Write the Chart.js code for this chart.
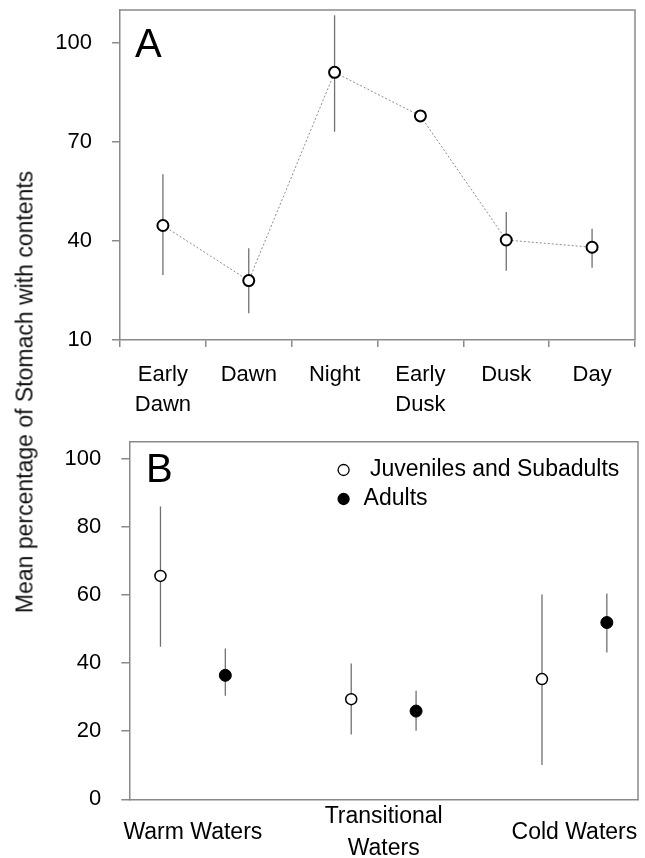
<!DOCTYPE html>
<html>
<head>
<meta charset="utf-8">
<script src="https://cdn.jsdelivr.net/npm/chart.js@4.4.1/dist/chart.umd.min.js"></script>
<style>
html, body { margin: 0; padding: 0; background: #fff; }
#wrap { position: relative; width: 645px; height: 858px; }
#chartA { position: absolute; left: 0; top: 0; }
#chartB { position: absolute; left: 0; top: 420px; }
#ytitle {
    position: absolute; left: 25px; top: 392px;
    transform: translate(-50%, -50%) rotate(-90deg);
    font: 23px "Liberation Sans", Arial, sans-serif;
    white-space: nowrap; color: #111;
}
</style>
</head>
<body>
<div id="wrap">
    <canvas id="chartA" width="645" height="420"></canvas>
    <canvas id="chartB" width="645" height="438"></canvas>
    <div id="ytitle">Mean percentage of Stomach with contents</div>
</div>
<script>
// panel A: time of day
const periods = [["Early", "Dawn"], "Dawn", "Night", ["Early", "Dusk"], "Dusk", "Day"];
const periodMean = [44.7, 28.0, 91.1, 77.9, 40.3, 38.1];
const periodLow = [29.7, 18.1, 73.1, null, 31.0, 31.9];
const periodHigh = [60.2, 37.8, 108.4, null, 48.8, 43.7];
const ticksA = [10, 40, 70, 100];

// panel B: water masses
const waters = ["Warm Waters", ["Transitional", "Waters"], "Cold Waters"];
const juvMean = [65.6, 29.4, 35.3];
const juvLow = [44.8, 19.0, 10.1];
const juvHigh = [86.0, 39.9, 60.1];
const adultMean = [36.4, 25.9, 51.9];
const adultLow = [30.4, 20.1, 43.1];
const adultHigh = [44.3, 31.9, 60.4];
const ticksB = [0, 20, 40, 60, 80, 100];

const FONT = '"Liberation Sans", Arial, sans-serif';
const AXIS = "#8a8a8a";
const SHIFT = 0.17;

// chart.js pads the scales for half a label; the frame here is fixed instead
function noPad(s) {
    s.paddingTop = 0;
    s.paddingBottom = 0;
    s.paddingLeft = 0;
    s.paddingRight = 0;
}

const errorBars = {
    id: "errorBars",
    beforeDatasetsDraw(chart) {
        const ctx = chart.ctx;
        const y = chart.scales.y;
        ctx.save();
        ctx.strokeStyle = "#707070";
        ctx.lineWidth = 1.3;
        chart.data.datasets.forEach((ds, di) => {
            if (!ds.low) return;
            chart.getDatasetMeta(di).data.forEach((pt, i) => {
                if (ds.low[i] == null) return;
                ctx.beginPath();
                ctx.moveTo(pt.x, y.getPixelForValue(ds.low[i]));
                ctx.lineTo(pt.x, y.getPixelForValue(ds.high[i]));
                ctx.stroke();
            });
        });
        ctx.restore();
    }
};

const frame = {
    id: "frame",
    afterDraw(chart, args, opts) {
        const ctx = chart.ctx;
        const a = chart.chartArea;
        ctx.save();
        ctx.strokeStyle = AXIS;
        ctx.lineWidth = 1.5;
        ctx.beginPath();
        ctx.moveTo(a.left, a.top);
        ctx.lineTo(a.right, a.top);
        ctx.lineTo(a.right, a.bottom);
        ctx.stroke();
        ctx.fillStyle = "#000";
        ctx.font = "40px " + FONT;
        ctx.textBaseline = "alphabetic";
        ctx.fillText(opts.letter, a.left + opts.dx, a.top + opts.dy);
        ctx.restore();
    }
};

const insideLegend = {
    id: "insideLegend",
    afterDraw(chart, args, opts) {
        const ctx = chart.ctx;
        const a = chart.chartArea;
        ctx.save();
        ctx.font = "23px " + FONT;
        ctx.textBaseline = "middle";
        chart.data.datasets.forEach((ds, i) => {
            const cx = a.left + opts.x;
            const cy = a.top + opts.y + i * opts.gap;
            ctx.beginPath();
            ctx.arc(cx, cy, 5.5, 0, 2 * Math.PI);
            ctx.fillStyle = ds.pointBackgroundColor;
            ctx.fill();
            ctx.strokeStyle = "#000";
            ctx.lineWidth = 1.3;
            ctx.stroke();
            ctx.fillStyle = "#000";
            ctx.fillText(ds.label, cx + 20, cy);
        });
        ctx.restore();
    }
};

const tickFont = { family: FONT, size: 22 };

new Chart(document.getElementById("chartA"), {
    type: "line",
    data: {
        labels: periods,
        datasets: [{
            data: periodMean,
            low: periodLow,
            high: periodHigh,
            borderColor: "#8c8c8c",
            borderWidth: 1,
            borderDash: [2, 2],
            tension: 0,
            pointRadius: 5.5,
            pointBorderWidth: 2,
            pointBackgroundColor: "#fff",
            pointBorderColor: "#000"
        }]
    },
    options: {
        responsive: false,
        animation: false,
        layout: { padding: { top: 10, right: 10, left: 0, bottom: 0 } },
        plugins: {
            legend: { display: false },
            tooltip: { enabled: false },
            frame: { letter: "A", dx: 15, dy: 47 }
        },
        scales: {
            x: {
                offset: true,
                grid: { offset: true, drawOnChartArea: false, tickLength: 7, color: AXIS, lineWidth: 1.5 },
                border: { color: AXIS, width: 1.5 },
                ticks: { color: "#000", font: { family: FONT, size: 22, lineHeight: 1.36 }, padding: 13, maxRotation: 0, autoSkip: false },
                afterFit(s) { s.height = 80; noPad(s); }
            },
            y: {
                min: 10,
                max: 110,
                afterBuildTicks(s) { s.ticks = ticksA.map(v => ({ value: v })); },
                grid: { drawOnChartArea: false, tickLength: 8, color: AXIS, lineWidth: 1.5 },
                border: { color: AXIS, width: 1.5 },
                ticks: { color: "#000", font: tickFont, padding: 20 },
                afterFit(s) { s.width = 120; noPad(s); }
            }
        }
    },
    plugins: [errorBars, frame]
});

new Chart(document.getElementById("chartB"), {
    type: "scatter",
    data: {
        datasets: [{
            label: " Juveniles and Subadults",
            data: juvMean.map((v, i) => ({ x: i + 1 - SHIFT, y: v })),
            low: juvLow,
            high: juvHigh,
            pointRadius: 5.5,
            pointBorderWidth: 1.5,
            pointBackgroundColor: "#fff",
            pointBorderColor: "#000"
        }, {
            label: "Adults",
            data: adultMean.map((v, i) => ({ x: i + 1 + SHIFT, y: v })),
            low: adultLow,
            high: adultHigh,
            pointRadius: 6,
            pointBorderWidth: 1,
            pointBackgroundColor: "#000",
            pointBorderColor: "#000"
        }]
    },
    options: {
        responsive: false,
        animation: false,
        layout: { padding: { top: 21.7, right: 6.7, left: 0, bottom: 0 } },
        plugins: {
            legend: { display: false },
            tooltip: { enabled: false },
            frame: { letter: "B", dx: 16.7, dy: 40.3 },
            insideLegend: { x: 214.3, y: 28.3, gap: 29 }
        },
        scales: {
            x: {
                type: "linear",
                min: 2 / 3,
                max: 10 / 3,
                afterBuildTicks(s) { s.ticks = [1, 2, 3].map(v => ({ value: v })); },
                grid: { display: false, drawTicks: false },
                border: { display: true, color: AXIS, width: 1.5 },
                ticks: {
                    color: "#000",
                    font: { family: FONT, size: 23, lineHeight: 1.39 },
                    padding: 17,
                    crossAlign: "center",
                    maxRotation: 0,
                    autoSkip: false,
                    callback: v => waters[Math.round(v) - 1]
                },
                afterFit(s) { s.height = 58.7; noPad(s); }
            },
            y: {
                min: 0,
                max: 105,
                afterBuildTicks(s) { s.ticks = ticksB.map(v => ({ value: v })); },
                grid: { drawOnChartArea: false, tickLength: 8, color: AXIS, lineWidth: 1.5 },
                border: { color: AXIS, width: 1.5 },
                ticks: { color: "#000", font: tickFont, padding: 20 },
                afterFit(s) { s.width = 129.3; noPad(s); }
            }
        }
    },
    plugins: [errorBars, frame, insideLegend]
});
</script>
</body>
</html>
